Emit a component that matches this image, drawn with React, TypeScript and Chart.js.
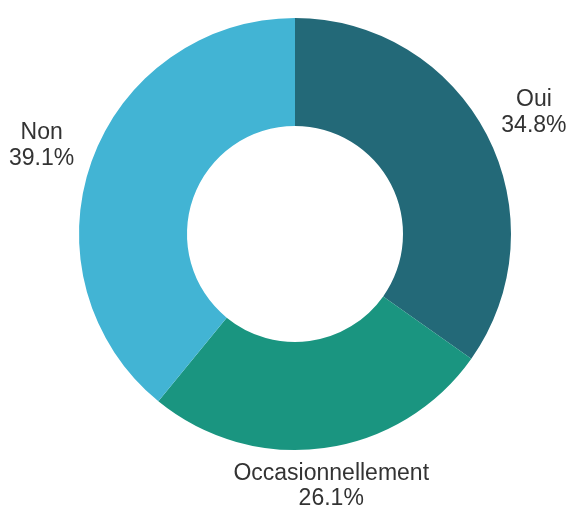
import React, { useEffect, useRef } from "react";
import { Chart, registerables } from "chart.js";

Chart.register(...registerables);

const categories = ["Oui", "Occasionnellement", "Non"];
const values = [34.8, 26.1, 39.1];
const colors = ["#236978", "#1a9580", "#42b4d4"];

const FONT_SIZE = 23;
const LINE_H = 25.5;

const labelPlugin = {
  id: "outerLabels",
  afterDatasetsDraw(chart: any) {
    const { ctx } = chart;
    const meta = chart.getDatasetMeta(0);
    const total = values.reduce((a, b) => a + b, 0);
    ctx.save();
    ctx.font = `${FONT_SIZE}px 'Liberation Sans', Arial, sans-serif`;
    ctx.fillStyle = "#333333";
    ctx.textAlign = "center";
    ctx.textBaseline = "alphabetic";
    const capHalf = FONT_SIZE * 0.729 / 2;
    meta.data.forEach((arc: any, i: number) => {
      const mid = (arc.startAngle + arc.endAngle) / 2;
      const r = arc.outerRadius + 53;
      const x = arc.x + Math.cos(mid) * r;
      let y = arc.y + Math.sin(mid) * r;
      y = Math.min(y, chart.height - 22);
      const pct = ((values[i] / total) * 100).toFixed(1) + "%";
      ctx.fillText(categories[i], x, y - LINE_H / 2 + capHalf);
      ctx.fillText(pct, x, y + LINE_H / 2 + capHalf);
    });
    ctx.restore();
  },
};

export default function App() {
  const ref = useRef<HTMLCanvasElement>(null);
  useEffect(() => {
    document.body.style.margin = "0";
    const chart = new Chart(ref.current!, {
      type: "doughnut",
      data: {
        labels: categories,
        datasets: [
          {
            data: values,
            backgroundColor: colors,
            borderWidth: 0,
          },
        ],
      },
      options: {
        responsive: false,
        animation: false,
        cutout: "50%",
        layout: { padding: { left: 79, right: 58, top: 18, bottom: 56 } },
        plugins: { legend: { display: false }, tooltip: { enabled: false } },
      },
      plugins: [labelPlugin],
    });
    return () => chart.destroy();
  }, []);
  return <canvas ref={ref} width={569} height={506} style={{ display: "block" }} />;
}
